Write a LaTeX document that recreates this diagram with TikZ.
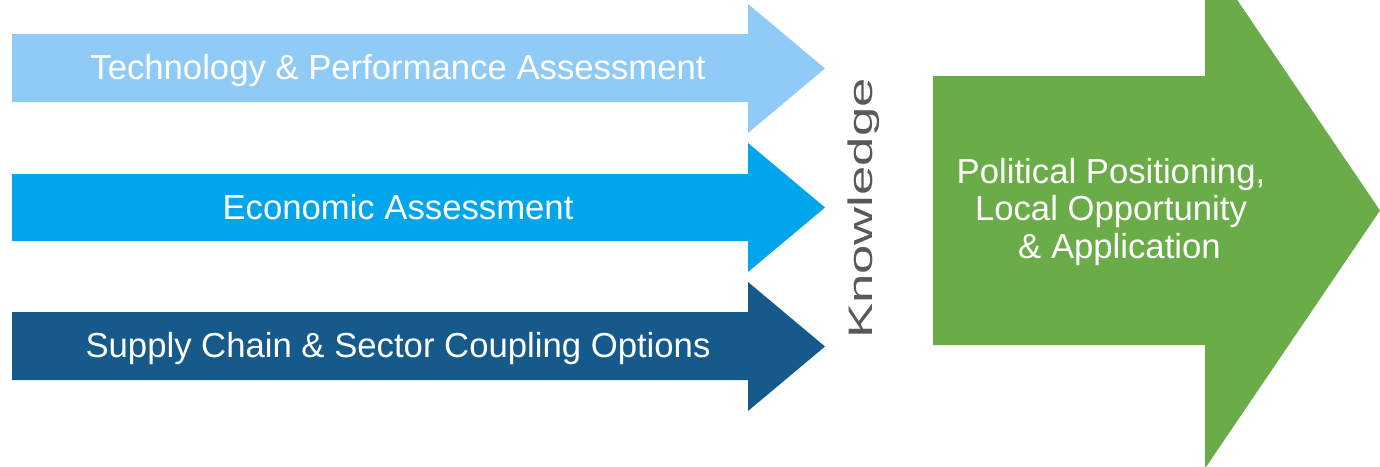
\documentclass[tikz,border=0pt]{standalone}
\usepackage{fontspec}
\setmainfont{Liberation Sans}
\definecolor{lightblueA}{HTML}{8FCBF6}
\definecolor{midblueA}{HTML}{00A5EC}
\definecolor{darkblueA}{HTML}{155A8A}
\definecolor{greenA}{HTML}{6AAC47}
\definecolor{grayA}{HTML}{595959}
\tikzset{
  arrowlabel/.style={text=white, inner sep=0pt, anchor=base, font=\fontsize{34.7}{37.5}\selectfont},
  knowlabel/.style={text=grayA, inner sep=0pt, anchor=base, rotate=90, font=\fontsize{34}{37}\selectfont},
}
\begin{document}
\begin{tikzpicture}[x=1pt,y=-1pt]
\useasboundingbox (0,0) rectangle (1380,466);
% blue arrows
\fill[lightblueA] (12,34) -- (748,34) -- (748,4) -- (825,68.5) -- (748,133) -- (748,102) -- (12,102) -- cycle;
\fill[midblueA] (12,174) -- (748,174) -- (748,143) -- (825,207.5) -- (748,272) -- (748,241) -- (12,241) -- cycle;
\fill[darkblueA] (12,312) -- (748,312) -- (748,282) -- (825,346.5) -- (748,411) -- (748,380) -- (12,380) -- cycle;
% green arrow
\begin{scope}
\clip (0,0) rectangle (1380,466);
\fill[greenA] (933,76) -- (1205,76) -- (1205,-47.5) -- (1380,210.5) -- (1205,468.5) -- (1205,345) -- (933,345) -- cycle;
\end{scope}
% labels
\node[arrowlabel] (t1) at (398,79) {Technology \& Performance Assessment};
\node[arrowlabel] (t2) at (398,219) {Economic Assessment};
\node[arrowlabel] (t3) at (398,357.5) {Supply Chain \& Sector Coupling Options};
\node[knowlabel] (kn) at (872,208.5) {\scalebox{1.55}[1]{Knowledge}};
\node[text=white, inner sep=0pt, anchor=base, align=center, font=\fontsize{34.7}{37.5}\selectfont] (g) at (1111,258)
  {Political Positioning,\\Local Opportunity\\\hspace*{17pt}\& Application};
\end{tikzpicture}
\end{document}
